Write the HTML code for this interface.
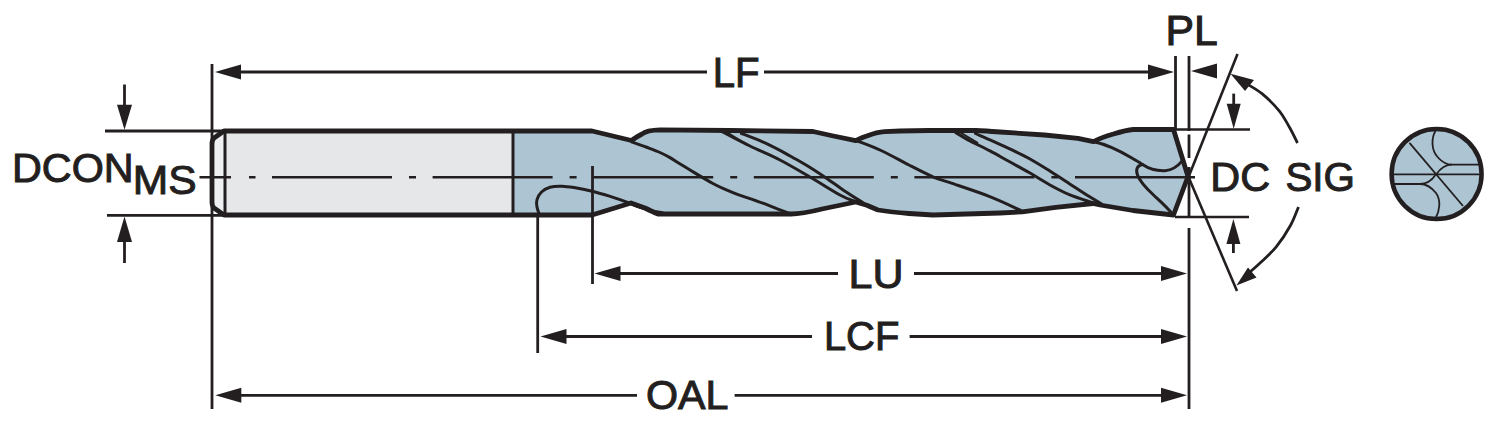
<!DOCTYPE html>
<html><head><meta charset="utf-8"><style>
html,body{margin:0;padding:0;background:#fff;width:1500px;height:427px;overflow:hidden}
svg{display:block}
text{font-family:"Liberation Sans",sans-serif;fill:#231f20}
</style></head><body>
<svg width="1500" height="427" viewBox="0 0 1500 427">
<path d="M224,131 L513,131 L513,215 L224,215 L214,208 Q212,206 212,202 L212,144 Q212,140 214,138 Z" fill="#e6e7e9"/>
<path d="M224,131 L214,138 Q212,140 212,144 L212,202 Q212,206 214,208 L224,215" fill="#eef0f1" stroke="none"/>
<path d="M513,131 L592,131 L631.5,140.5 C635,138 638,136 642,134 C645,131.5 651,130 660,129.8 L730,130.5 L813,131.5 L833.4,136 L855.7,140.6 C859,139 862,137.5 866.8,136 C872,134 878,132 884.6,131.7 L900,131 L929,130.5 L975.7,130.5 C985,131 992,131.3 1000,132 C1015,133 1030,134 1044.5,135 C1060,136.5 1070,137.5 1078,138.4 L1093.5,141.7 C1100,138 1106,136 1113.4,134 C1120,132 1127,130 1133.4,129.5 L1173.5,129.5 L1188,176.5 L1173.5,215 L1133,210.5 L1100,205 L1093,203.5 L1055.7,207.4 L1022.3,211.9 L1000,213 L933,215 L909,213.5 C897,212.5 888,211.5 878,210 L866.8,205.2 L855.7,202 L822,209 C810,212 800,214 791,214 L700,214 L658,214 C653,212 649,210 645,208 L631,203 L592,215 L513,215 Z" fill="#adc4d3"/>
<path d="M224,131 L592,131 L631.5,140.5 C635,138 638,136 642,134 C645,131.5 651,130 660,129.8 L730,130.5 L813,131.5 L833.4,136 L855.7,140.6 C859,139 862,137.5 866.8,136 C872,134 878,132 884.6,131.7 L900,131 L929,130.5 L975.7,130.5 C985,131 992,131.3 1000,132 C1015,133 1030,134 1044.5,135 C1060,136.5 1070,137.5 1078,138.4 L1093.5,141.7 C1100,138 1106,136 1113.4,134 C1120,132 1127,130 1133.4,129.5 L1173.5,129.5 L1188,176.5 L1173.5,215 L1133,210.5 L1100,205 L1093,203.5 L1055.7,207.4 L1022.3,211.9 L1000,213 L933,215 L909,213.5 C897,212.5 888,211.5 878,210 L866.8,205.2 L855.7,202 L822,209 C810,212 800,214 791,214 L700,214 L658,214 C653,212 649,210 645,208 L631,203 L592,215 L224,215 L214,208 Q212,206 212,202 L212,144 Q212,140 214,138 Z" fill="none" stroke="#231f20" stroke-width="4.8" stroke-linejoin="round"/>
<path d="M225,131 L225,215 M513,131 L513,215" stroke="#231f20" stroke-width="3" fill="none"/>
<path d="M539.5,215.0 C539.1,213.7 537.4,209.6 537.0,207.0 C536.6,204.4 536.2,202.1 537.0,199.6 C537.8,197.1 539.3,194.1 541.5,192.0 C543.7,189.9 546.6,188.2 550.0,187.2 C553.4,186.2 558.0,186.1 562.0,186.2 C566.0,186.3 569.1,186.8 574.1,187.6 C579.1,188.4 586.2,189.8 592.2,191.3 C598.2,192.8 605.6,195.0 610.2,196.4 C614.8,197.8 616.9,198.5 620.0,199.6 C623.1,200.7 625.7,201.7 629.0,203.0 C632.3,204.3 636.3,206.1 640.0,207.4 C643.7,208.7 647.3,209.8 651.0,210.7 C654.7,211.5 660.2,212.2 662.0,212.5" fill="none" stroke="#231f20" stroke-width="3" stroke-linecap="round" stroke-linejoin="round"/>
<path d="M632.0,142.0 C634.3,142.8 641.3,145.2 646.0,147.0 C650.7,148.8 656.0,150.7 660.0,152.5 C664.0,154.3 666.5,155.6 670.0,157.6 C673.5,159.6 677.2,162.2 681.0,164.5 C684.8,166.8 687.2,168.3 692.5,171.5 C697.8,174.7 707.4,180.5 712.9,183.5 C718.4,186.5 721.5,187.7 725.8,189.6 C730.1,191.5 734.4,193.2 738.7,194.8 C743.0,196.4 747.2,197.6 751.5,199.1 C755.8,200.6 760.1,202.1 764.4,203.7 C768.7,205.3 772.9,207.1 777.3,208.8 C781.7,210.5 788.7,213.0 791.0,213.8" fill="none" stroke="#231f20" stroke-width="3" stroke-linecap="round" stroke-linejoin="round"/>
<path d="M721.0,131.0 C725.8,133.5 740.2,141.2 750.0,146.0 C759.8,150.8 770.0,154.8 780.0,160.0 C790.0,165.2 800.0,171.2 810.0,177.0 C820.0,182.8 832.5,190.9 840.0,195.0 C847.5,199.1 852.5,200.4 855.0,201.5" fill="none" stroke="#231f20" stroke-width="3" stroke-linecap="round" stroke-linejoin="round"/>
<path d="M741.5,133.5 C744.9,134.8 755.6,138.8 762.0,141.6 C768.4,144.4 774.5,147.5 780.0,150.3 C785.5,153.2 789.9,155.8 795.0,158.7 C800.1,161.6 805.4,164.6 810.5,167.8 C815.6,171.0 820.6,174.3 825.7,177.7 C830.8,181.1 836.0,185.0 841.0,188.4 C846.0,191.8 852.0,195.7 856.0,198.3 C860.0,200.9 863.5,203.1 865.0,204.0" fill="none" stroke="#231f20" stroke-width="3" stroke-linecap="round" stroke-linejoin="round"/>
<path d="M856.0,140.5 C860.2,142.2 872.2,146.4 881.0,150.5 C889.8,154.6 900.2,160.5 909.0,165.0 C917.8,169.5 927.2,174.4 934.0,177.3 C940.8,180.2 940.7,179.5 950.0,182.7 C959.3,185.9 977.8,191.9 989.8,196.6 C1001.8,201.3 1016.6,208.6 1022.0,211.0" fill="none" stroke="#231f20" stroke-width="3" stroke-linecap="round" stroke-linejoin="round"/>
<path d="M954.0,131.5 C956.7,133.1 964.0,137.7 970.0,140.9 C976.0,144.1 983.4,147.4 990.0,150.9 C996.6,154.4 1003.1,158.2 1009.7,161.8 C1016.3,165.5 1023.0,169.0 1029.6,172.8 C1036.2,176.6 1042.9,181.0 1049.5,184.7 C1056.1,188.3 1062.8,191.9 1069.4,194.7 C1076.0,197.5 1085.0,200.2 1089.3,201.6 C1093.6,203.0 1094.0,202.8 1095.0,203.0" fill="none" stroke="#231f20" stroke-width="3" stroke-linecap="round" stroke-linejoin="round"/>
<path d="M975.5,133.5 C977.9,134.6 984.3,137.3 990.0,139.9 C995.7,142.5 1003.1,145.8 1009.7,148.9 C1016.3,152.1 1023.0,155.2 1029.6,158.8 C1036.2,162.5 1042.9,166.7 1049.5,170.8 C1056.1,175.0 1062.8,179.4 1069.4,183.7 C1076.0,188.0 1084.0,193.3 1089.3,196.6 C1094.6,199.9 1099.0,202.3 1101.0,203.5" fill="none" stroke="#231f20" stroke-width="3" stroke-linecap="round" stroke-linejoin="round"/>
<path d="M1094,141.7 C1105,144 1120,151 1131,157.5 C1136,160.5 1140,162.5 1142.5,164.5 C1137,165.5 1135.5,169.5 1137.5,175 C1140,182 1146,188 1153.5,195 C1160,201 1167,207 1172.4,214" fill="none" stroke="#231f20" stroke-width="3" stroke-linecap="round" stroke-linejoin="round"/>
<path d="M1142.5,164.5 C1150,169.5 1158,171 1165,170.7 C1172,170.2 1178,166 1182.4,160.6" fill="none" stroke="#231f20" stroke-width="3" stroke-linecap="round"/>
<path d="M725,131 L748,145.5 M958,131 L978,143" fill="none" stroke="#231f20" stroke-width="2"/>
<path d="M199.5,177.2 L231.0,177.2 M249.0,177.2 L255.5,177.2 M272.0,177.2 L392.0,177.2 M409.0,177.2 L416.0,177.2 M432.6,177.2 L552.6,177.2 M569.6,177.2 L576.6,177.2 M593.2,177.2 L713.2,177.2 M730.2,177.2 L737.2,177.2 M753.8,177.2 L873.8,177.2 M890.8,177.2 L897.8,177.2 M914.4,177.2 L1034.4,177.2 M1051.4,177.2 L1058.4,177.2 M1075.0,177.2 L1195.0,177.2" stroke="#231f20" stroke-width="2.6" fill="none"/>
<line x1="212" y1="64" x2="212" y2="409" stroke="#231f20" stroke-width="2.8"/>
<line x1="537.7" y1="215" x2="537.7" y2="353" stroke="#231f20" stroke-width="2.8"/>
<line x1="592.5" y1="166" x2="592.5" y2="284" stroke="#231f20" stroke-width="2.8"/>
<line x1="1189" y1="56" x2="1189" y2="131" stroke="#231f20" stroke-width="2.8"/>
<line x1="1189" y1="134.5" x2="1189" y2="158" stroke="#231f20" stroke-width="2.8"/>
<line x1="1189" y1="167" x2="1189" y2="217" stroke="#231f20" stroke-width="2.8"/>
<line x1="1189" y1="228" x2="1189" y2="409" stroke="#231f20" stroke-width="2.8"/>
<line x1="1175.5" y1="56" x2="1175.5" y2="129" stroke="#231f20" stroke-width="2.8"/>
<line x1="105" y1="131" x2="226" y2="131" stroke="#231f20" stroke-width="2.8"/>
<line x1="107" y1="215.3" x2="226" y2="215.3" stroke="#231f20" stroke-width="2.8"/>
<line x1="1175" y1="129.5" x2="1250" y2="129.5" stroke="#231f20" stroke-width="2.5"/>
<line x1="1175" y1="217" x2="1249" y2="217" stroke="#231f20" stroke-width="2.5"/>
<line x1="240" y1="72" x2="707" y2="72" stroke="#231f20" stroke-width="2.8"/>
<line x1="764" y1="72" x2="1150" y2="72" stroke="#231f20" stroke-width="2.8"/>
<path d="M215.0,72.0 L241.0,79.5 L241.0,64.5 Z" fill="#231f20"/>
<path d="M1174.0,72.0 L1148.0,64.5 L1148.0,79.5 Z" fill="#231f20"/>
<path d="M1191.0,71.0 L1217.0,78.5 L1217.0,63.5 Z" fill="#231f20"/>
<line x1="619" y1="273.5" x2="838" y2="273.5" stroke="#231f20" stroke-width="2.8"/>
<line x1="914" y1="273.5" x2="1164" y2="273.5" stroke="#231f20" stroke-width="2.8"/>
<path d="M594.5,273.5 L620.5,281.0 L620.5,266.0 Z" fill="#231f20"/>
<path d="M1187.0,273.5 L1161.0,266.0 L1161.0,281.0 Z" fill="#231f20"/>
<line x1="564" y1="336.5" x2="812" y2="336.5" stroke="#231f20" stroke-width="2.8"/>
<line x1="909.6" y1="336.5" x2="1164" y2="336.5" stroke="#231f20" stroke-width="2.8"/>
<path d="M540.5,336.5 L566.5,344.0 L566.5,329.0 Z" fill="#231f20"/>
<path d="M1187.0,336.5 L1161.0,329.0 L1161.0,344.0 Z" fill="#231f20"/>
<line x1="240" y1="395.3" x2="637" y2="395.3" stroke="#231f20" stroke-width="2.8"/>
<line x1="734.6" y1="395.3" x2="1164" y2="395.3" stroke="#231f20" stroke-width="2.8"/>
<path d="M215.3,395.3 L241.3,402.8 L241.3,387.8 Z" fill="#231f20"/>
<path d="M1187.0,395.3 L1161.0,387.8 L1161.0,402.8 Z" fill="#231f20"/>
<line x1="124.5" y1="84.5" x2="124.5" y2="106" stroke="#231f20" stroke-width="2.8"/>
<path d="M124.5,129.7 L132.0,104.7 L117.0,104.7 Z" fill="#231f20"/>
<line x1="124.5" y1="240" x2="124.5" y2="263" stroke="#231f20" stroke-width="2.8"/>
<path d="M124.5,216.5 L117.0,242.0 L132.0,242.0 Z" fill="#231f20"/>
<line x1="1233.7" y1="93.6" x2="1233.7" y2="104" stroke="#231f20" stroke-width="2.8"/>
<path d="M1233.7,128.7 L1240.7,103.7 L1226.7,103.7 Z" fill="#231f20"/>
<line x1="1233.4" y1="240" x2="1233.4" y2="253" stroke="#231f20" stroke-width="2.8"/>
<path d="M1233.4,219.0 L1226.4,244.0 L1240.4,244.0 Z" fill="#231f20"/>
<line x1="1237.5" y1="54" x2="1188.5" y2="177" stroke="#231f20" stroke-width="2.6"/>
<line x1="1188.5" y1="177" x2="1237" y2="291" stroke="#231f20" stroke-width="2.6"/>
<path d="M1247.0,84.0 C1249.5,85.6 1256.7,89.3 1262.0,93.7 C1267.3,98.1 1274.4,105.0 1279.0,110.6 C1283.6,116.2 1286.5,122.1 1289.6,127.5 C1292.7,132.9 1296.2,140.4 1297.5,143.0" fill="none" stroke="#231f20" stroke-width="2.8"/>
<path d="M1298.5,207.0 C1297.1,210.1 1294.0,219.2 1290.3,225.8 C1286.6,232.5 1281.3,240.7 1276.2,246.9 C1271.1,253.2 1264.2,259.1 1259.8,263.3 C1255.4,267.5 1251.6,270.6 1250.0,272.0" fill="none" stroke="#231f20" stroke-width="2.8"/>
<path d="M1230.5,73.7 L1254,80 L1245,91 Z" fill="#231f20"/>
<path d="M1236.4,285.5 L1248,267.5 L1256.5,277.5 Z" fill="#231f20"/>
<circle cx="1436.6" cy="174" r="45" fill="#adc4d3" stroke="#231f20" stroke-width="4.5"/>
<path d="M1391,174.4 L1482,174.4" fill="none" stroke="#231f20" stroke-width="1.8"/>
<path d="M1391,184 L1420,184 C1428,184 1432,180 1435.5,175" fill="none" stroke="#231f20" stroke-width="1.8"/>
<path d="M1482,164.6 L1452,164.6 C1444,164.6 1440,169 1436.5,174" fill="none" stroke="#231f20" stroke-width="1.8"/>
<path d="M1409.5,142.8 L1463,206" fill="none" stroke="#231f20" stroke-width="1.8"/>
<path d="M1436,130 C1431,138 1431,150 1438,157.5 C1442,162 1446,164.6 1452,164.6" fill="none" stroke="#231f20" stroke-width="1.8"/>
<path d="M1435.5,218.5 C1440,210 1441,200 1436,193 C1432,188 1427,184 1420,184" fill="none" stroke="#231f20" stroke-width="1.8"/>
<text transform="translate(11.97,181.70) scale(1.0087,1.0000)" font-size="41" stroke="#231f20" stroke-width="1.0">DCON</text>
<text transform="translate(132.68,194.30) scale(1.0386,1.0000)" font-size="41" stroke="#231f20" stroke-width="1.0">MS</text>
<text transform="translate(712.76,86.77) scale(0.9795,1.0300)" font-size="41" stroke="#231f20" stroke-width="1.0">LF</text>
<text transform="translate(1165.57,44.68) scale(1.0435,1.0167)" font-size="41" stroke="#231f20" stroke-width="1.0">PL</text>
<text transform="translate(848.55,287.69) scale(1.0489,1.0133)" font-size="41" stroke="#231f20" stroke-width="1.0">LU</text>
<text transform="translate(823.88,349.99) scale(0.9743,1.0133)" font-size="41" stroke="#231f20" stroke-width="1.0">LCF</text>
<text transform="translate(645.99,408.50) scale(1.0063,1.0000)" font-size="41" stroke="#231f20" stroke-width="1.0">OAL</text>
<text transform="translate(1210.27,191.00) scale(1.0091,1.0000)" font-size="41" stroke="#231f20" stroke-width="1.0">DC</text>
<text transform="translate(1285.41,191.00) scale(0.9851,1.0000)" font-size="41" stroke="#231f20" stroke-width="1.0">SIG</text>
</svg></body></html>
